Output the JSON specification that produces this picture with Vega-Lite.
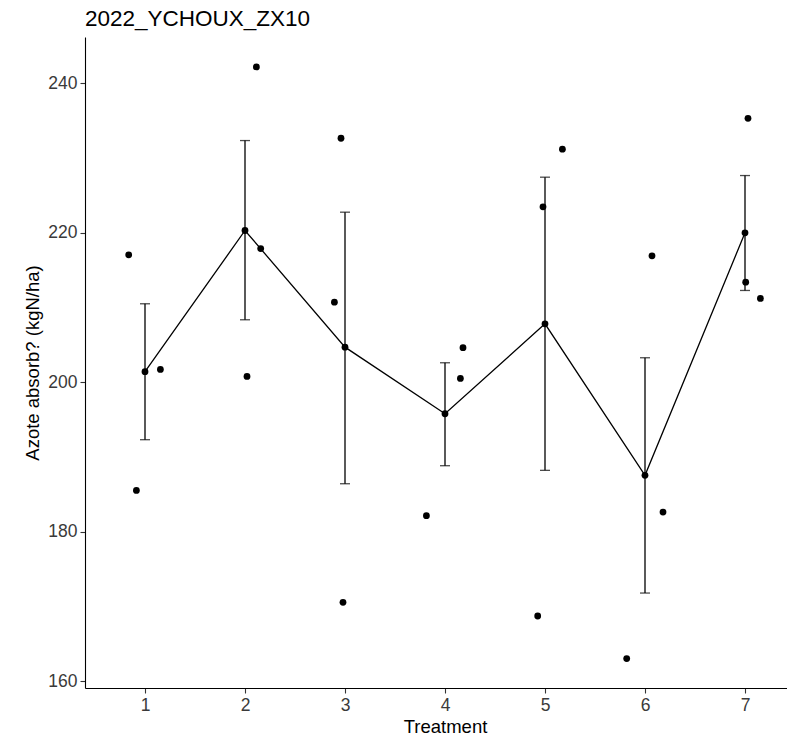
{
  "$schema": "https://vega.github.io/schema/vega-lite/v6.json",
  "width": 702,
  "height": 651,
  "autosize": {"type": "none"},
  "padding": {"left": 85, "top": 37, "right": 0, "bottom": 48},
  "background": "white",
  "title": {
    "text": "2022_YCHOUX_ZX10",
    "anchor": "start",
    "frame": "group",
    "baseline": "alphabetic",
    "offset": 13,
    "dy": 24,
    "fontSize": 22.5,
    "fontWeight": "normal",
    "font": "Liberation Sans",
    "color": "black"
  },
  "config": {
    "view": {"stroke": null},
    "font": "Liberation Sans",
    "axis": {
      "grid": false,
      "domainColor": "black",
      "domainWidth": 1.1,
      "tickColor": "#333333",
      "tickWidth": 1.1,
      "tickSize": 5,
      "labelPadding": 3,
      "labelFontSize": 17.5,
      "labelColor": "#3a3a3a",
      "labelFont": "Liberation Sans",
      "titleFont": "Liberation Sans",
      "titleFontSize": 18.5,
      "titleFontWeight": "normal",
      "titleColor": "black"
    }
  },
  "datasets": {
    "plots": [
      {"treatment": 1, "x_jitter": 0.837, "azote": 217.07},
      {"treatment": 1, "x_jitter": 0.914, "azote": 185.56},
      {"treatment": 1, "x_jitter": 1.154, "azote": 201.74},
      {"treatment": 2, "x_jitter": 2.114, "azote": 242.2},
      {"treatment": 2, "x_jitter": 2.157, "azote": 217.91},
      {"treatment": 2, "x_jitter": 2.02, "azote": 200.8},
      {"treatment": 3, "x_jitter": 2.96, "azote": 232.66},
      {"treatment": 3, "x_jitter": 2.894, "azote": 210.74},
      {"treatment": 3, "x_jitter": 2.98, "azote": 170.59},
      {"treatment": 4, "x_jitter": 3.814, "azote": 182.18},
      {"treatment": 4, "x_jitter": 4.154, "azote": 200.53},
      {"treatment": 4, "x_jitter": 4.18, "azote": 204.64},
      {"treatment": 5, "x_jitter": 4.98, "azote": 223.49},
      {"treatment": 5, "x_jitter": 5.174, "azote": 231.19},
      {"treatment": 5, "x_jitter": 4.927, "azote": 168.76},
      {"treatment": 6, "x_jitter": 6.07, "azote": 216.93},
      {"treatment": 6, "x_jitter": 6.18, "azote": 182.66},
      {"treatment": 6, "x_jitter": 5.817, "azote": 163.06},
      {"treatment": 7, "x_jitter": 7.03, "azote": 235.33},
      {"treatment": 7, "x_jitter": 7.007, "azote": 213.41},
      {"treatment": 7, "x_jitter": 7.154, "azote": 211.23}
    ],
    "summary": [
      {"treatment": 1, "mean": 201.43, "lo": 192.34, "hi": 210.52},
      {"treatment": 2, "mean": 220.32, "lo": 208.38, "hi": 232.35},
      {"treatment": 3, "mean": 204.72, "lo": 186.45, "hi": 222.77},
      {"treatment": 4, "mean": 195.81, "lo": 188.86, "hi": 202.63},
      {"treatment": 5, "mean": 207.84, "lo": 188.24, "hi": 227.45},
      {"treatment": 6, "mean": 187.57, "lo": 171.83, "hi": 203.3},
      {"treatment": 7, "mean": 220.01, "lo": 212.3, "hi": 227.67}
    ]
  },
  "encoding": {
    "x": {
      "field": "treatment",
      "type": "quantitative",
      "scale": {"domain": [0.4, 7.42], "nice": false, "zero": false},
      "axis": {"values": [1, 2, 3, 4, 5, 6, 7], "title": "Treatment", "titleX": 360, "titlePadding": 4, "format": "d"}
    }
  },
  "layer": [
    {
      "data": {"name": "summary"},
      "mark": {"type": "rule", "color": "black", "strokeWidth": 1.3},
      "encoding": {
        "y": {
          "field": "lo",
          "type": "quantitative",
          "scale": {"domain": [159.13, 246.2], "nice": false, "zero": false},
          "axis": {"values": [160, 180, 200, 220, 240], "title": "Azote absorb? (kgN/ha)", "titlePadding": 5}
        },
        "y2": {"field": "hi"}
      }
    },
    {
      "data": {"name": "summary"},
      "mark": {"type": "tick", "orient": "horizontal", "color": "black", "size": 10, "thickness": 1.3},
      "encoding": {"y": {"field": "lo", "type": "quantitative"}}
    },
    {
      "data": {"name": "summary"},
      "mark": {"type": "tick", "orient": "horizontal", "color": "black", "size": 10, "thickness": 1.3},
      "encoding": {"y": {"field": "hi", "type": "quantitative"}}
    },
    {
      "data": {"name": "summary"},
      "mark": {"type": "line", "color": "black", "strokeWidth": 1.3},
      "encoding": {"y": {"field": "mean", "type": "quantitative"}}
    },
    {
      "data": {"name": "summary"},
      "mark": {"type": "point", "filled": true, "color": "black", "opacity": 1, "size": 46},
      "encoding": {"y": {"field": "mean", "type": "quantitative"}}
    },
    {
      "data": {"name": "plots"},
      "mark": {"type": "point", "filled": true, "color": "black", "opacity": 1, "size": 46},
      "encoding": {
        "x": {"field": "x_jitter", "type": "quantitative"},
        "y": {"field": "azote", "type": "quantitative"}
      }
    }
  ]
}
